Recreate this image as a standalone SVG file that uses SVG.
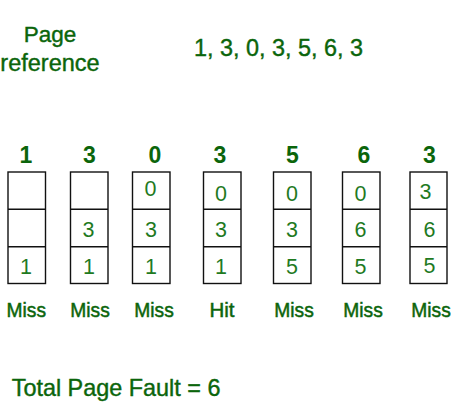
<svg xmlns="http://www.w3.org/2000/svg" width="452" height="403" viewBox="0 0 452 403">
<style>
text{font-family:"Liberation Sans",Arial,sans-serif;fill:#0b650b}
.hd{font-size:23px;font-weight:bold;text-anchor:middle}
.dg{font-size:21.5px;text-anchor:middle;fill:#1f7a1f}
.lb{font-size:20.5px;text-anchor:middle;stroke:#0b650b;stroke-width:0.5}
.ttl{stroke:#0b650b;stroke-width:0.4}
.bx{fill:#fff;stroke:#111;stroke-width:1.4}
.ln{stroke:#111;stroke-width:1.4}
</style>
<rect width="452" height="403" fill="#fff"/>
<g id="title">
<text class="ttl" x="50" y="41.5" text-anchor="middle" font-size="22.5">Page</text>
<text class="ttl" x="50" y="70.5" text-anchor="middle" font-size="23.5">reference</text>
<text class="ttl" x="194" y="56" font-size="23.4">1, 3, 0, 3, 5, 6, 3</text>
</g>
<g id="headers">
<text class="hd" x="26" y="162.5">1</text>
<text class="hd" x="89.5" y="162.5">3</text>
<text class="hd" x="155" y="162.5">0</text>
<text class="hd" x="220" y="162.5">3</text>
<text class="hd" x="292.5" y="162.5">5</text>
<text class="hd" x="364" y="162.5">6</text>
<text class="hd" x="429.5" y="162.5">3</text>
</g>
<g id="frame1">
<rect class="bx" x="8" y="172" width="37.5" height="111.5"/>
<line class="ln" x1="8" y1="209.3" x2="45.5" y2="209.3"/><line class="ln" x1="8" y1="246.7" x2="45.5" y2="246.7"/>
<text class="dg" x="26" y="273.5">1</text>
</g>
<g id="frame2">
<rect class="bx" x="70.5" y="172" width="37.5" height="111.5"/>
<line class="ln" x1="70.5" y1="209.3" x2="108" y2="209.3"/><line class="ln" x1="70.5" y1="246.7" x2="108" y2="246.7"/>
<text class="dg" x="88.5" y="237">3</text>
<text class="dg" x="89" y="273.5">1</text>
</g>
<g id="frame3">
<rect class="bx" x="132.5" y="172" width="37.5" height="111.5"/>
<line class="ln" x1="132.5" y1="209.3" x2="170" y2="209.3"/><line class="ln" x1="132.5" y1="246.7" x2="170" y2="246.7"/>
<text class="dg" x="150.5" y="195.5">0</text>
<text class="dg" x="151" y="237">3</text>
<text class="dg" x="151" y="273.5">1</text>
</g>
<g id="frame4">
<rect class="bx" x="203.5" y="172" width="37.5" height="111.5"/>
<line class="ln" x1="203.5" y1="209.3" x2="241" y2="209.3"/><line class="ln" x1="203.5" y1="246.7" x2="241" y2="246.7"/>
<text class="dg" x="221" y="200.5">0</text>
<text class="dg" x="221" y="237">3</text>
<text class="dg" x="221" y="273.5">1</text>
</g>
<g id="frame5">
<rect class="bx" x="273.5" y="172" width="37.5" height="111.5"/>
<line class="ln" x1="273.5" y1="209.3" x2="311" y2="209.3"/><line class="ln" x1="273.5" y1="246.7" x2="311" y2="246.7"/>
<text class="dg" x="292" y="200.5">0</text>
<text class="dg" x="292" y="237">3</text>
<text class="dg" x="292" y="273.5">5</text>
</g>
<g id="frame6">
<rect class="bx" x="342.5" y="172" width="37.5" height="111.5"/>
<line class="ln" x1="342.5" y1="209.3" x2="380" y2="209.3"/><line class="ln" x1="342.5" y1="246.7" x2="380" y2="246.7"/>
<text class="dg" x="360.5" y="200.5">0</text>
<text class="dg" x="360.5" y="237">6</text>
<text class="dg" x="360.5" y="273.5">5</text>
</g>
<g id="frame7">
<rect class="bx" x="410" y="172" width="37" height="111.5"/>
<line class="ln" x1="410" y1="209.3" x2="447" y2="209.3"/><line class="ln" x1="410" y1="246.7" x2="447" y2="246.7"/>
<text class="dg" x="425.5" y="199">3</text>
<text class="dg" x="429.5" y="236.5">6</text>
<text class="dg" x="429.5" y="273">5</text>
</g>
<g id="results">
<text class="lb" x="26.3" y="316.5" textLength="39.5" lengthAdjust="spacingAndGlyphs">Miss</text>
<text class="lb" x="90" y="316.5" textLength="39.5" lengthAdjust="spacingAndGlyphs">Miss</text>
<text class="lb" x="154" y="316.5" textLength="39.5" lengthAdjust="spacingAndGlyphs">Miss</text>
<text class="lb" x="222" y="316.5" stroke-width="0.1">Hit</text>
<text class="lb" x="294" y="316.5" textLength="39.5" lengthAdjust="spacingAndGlyphs">Miss</text>
<text class="lb" x="363" y="316.5" textLength="39.5" lengthAdjust="spacingAndGlyphs">Miss</text>
<text class="lb" x="431" y="316.5" textLength="39.5" lengthAdjust="spacingAndGlyphs">Miss</text>
</g>
<g id="summary">
<text class="ttl" x="11.7" y="396" font-size="23.4">Total Page Fault = 6</text>
</g>
<g id="connectors"></g>
</svg>
